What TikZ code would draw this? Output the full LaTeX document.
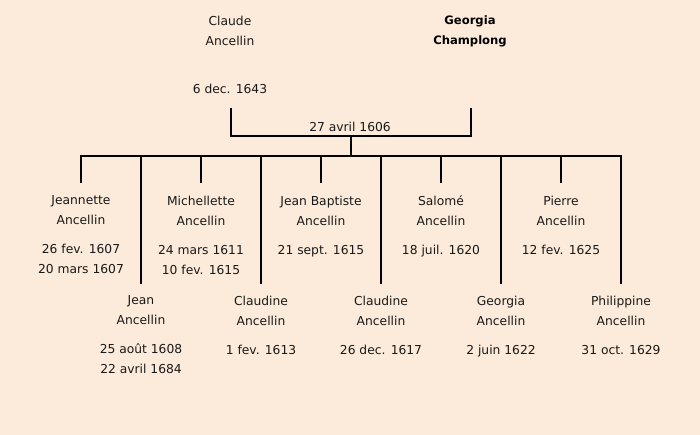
\documentclass[tikz,border=0pt]{standalone}
\usepackage{fontspec}
\setmainfont{DejaVu Sans}
\definecolor{bg}{RGB}{252,235,218}
\definecolor{ink}{RGB}{25,25,25}
\begin{document}
\begin{tikzpicture}[x=1pt,y=-1pt,
  txt/.style={align=center,inner sep=0pt,anchor=north,text=ink,
    font=\fontsize{12.3}{20}\selectfont,
    execute at begin node={\rule{0pt}{13pt}}},
  line/.style={line width=2pt,draw=black},
  drop/.style={line,shorten >=12pt}]
\fill[bg] (0,0) rectangle (700,435);
\useasboundingbox (0,0) rectangle (700,435);
% parents
\node[txt] (fa) at (230,15.5) {Claude\\Ancellin\\[28pt]6 dec. 1643};
\node[txt,font=\fontsize{11.6}{20}\selectfont\bfseries,text=black] (mo) at (470,15.5) {Georgia\\Champlong};
\coordinate (fab) at (231,108);
\coordinate (mob) at (471,108);
\coordinate (mar) at (351,136);
\coordinate (bar) at (351,156);
\node[txt,anchor=center,execute at begin node={}] (md) at (350,125.5) {27 avril 1606};
\draw[line] (fab) |- (mar) -| (mob);
\draw[line] (mar) -- (bar);
\coordinate (barL) at (81,156);
\coordinate (barR) at (621,156);
\draw[line,line cap=rect] (barL) -- (barR);
% children, top row
\node[txt] (c1) at (81,195.5) {Jeannette\\Ancellin\\[9pt]26 fev. 1607\\20 mars 1607};
\node[txt] (c3) at (201,195.5) {Michellette\\Ancellin\\[9pt]24 mars 1611\\10 fev. 1615};
\node[txt] (c5) at (321,195.5) {Jean Baptiste\\Ancellin\\[9pt]21 sept. 1615};
\node[txt] (c7) at (441,195.5) {Salomé\\Ancellin\\[9pt]18 juil. 1620};
\node[txt] (c9) at (561,195.5) {Pierre\\Ancellin\\[9pt]12 fev. 1625};
% children, bottom row
\node[txt] (c2) at (141,295.5) {Jean\\Ancellin\\[9pt]25 août 1608\\22 avril 1684};
\node[txt] (c4) at (261,295.5) {Claudine\\Ancellin\\[9pt]1 fev. 1613};
\node[txt] (c6) at (381,295.5) {Claudine\\Ancellin\\[9pt]26 dec. 1617};
\node[txt] (c8) at (501,295.5) {Georgia\\Ancellin\\[9pt]2 juin 1622};
\node[txt] (c10) at (621,295.5) {Philippine\\Ancellin\\[9pt]31 oct. 1629};
\foreach \c in {c1,c2,c3,c4,c5,c6,c7,c8,c9,c10}
  \draw[drop] (bar -| \c.north) -- (\c.north);
\end{tikzpicture}
\end{document}
